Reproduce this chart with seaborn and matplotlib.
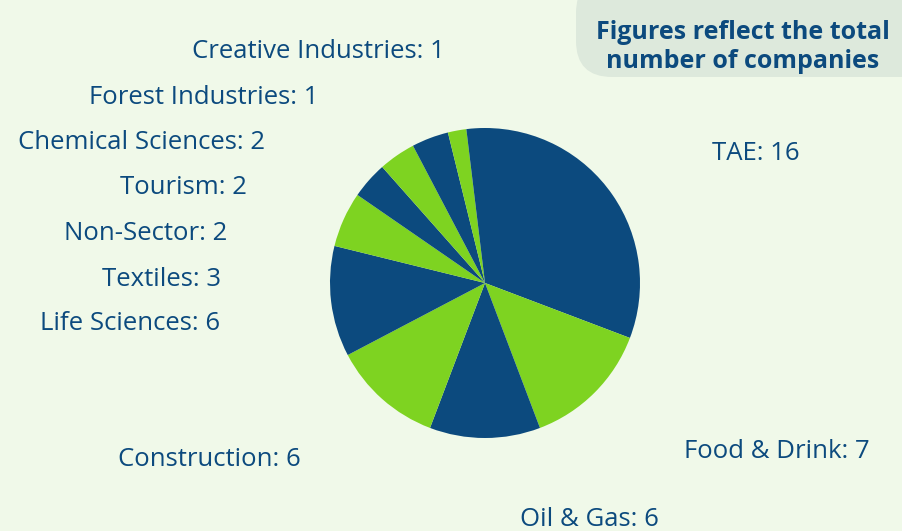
import matplotlib
matplotlib.use("Agg")
import matplotlib.pyplot as plt
import seaborn as sns
from matplotlib.patches import FancyBboxPatch

sectors = ["TAE", "Food & Drink", "Oil & Gas", "Construction", "Life Sciences",
           "Textiles", "Non-Sector", "Tourism", "Chemical Sciences",
           "Forest Industries", "Creative Industries"]
companies = [16, 7, 6, 6, 6, 3, 2, 2, 2, 1, 1]

# label centres in pixels (x, y from top)
label_pos = [(756, 153), (777, 452), (589, 520), (209, 460), (130, 324),
             (162, 279), (146, 233), (183, 188), (142, 143),
             (204, 98), (318, 52)]

dark = "#0c4a7e"
green = "#7ed321"
bg = "#f0f9e9"

sns.set_theme(style="white")
plt.rcParams["font.family"] = ["Open Sans", "DejaVu Sans"]

W, H = 903, 531
fig = plt.figure(figsize=(W / 100, H / 100), dpi=100)
fig.patch.set_facecolor(bg)

# pie axes: centre (485, 283), radius 155 px
cx, cy, r = 485, 283, 155
ax = fig.add_axes([(cx - r) / W, (H - cy - r) / H, 2 * r / W, 2 * r / H])
ax.set_facecolor(bg)
colors = [dark if i % 2 == 0 else green for i in range(len(companies))]
ax.pie(companies, colors=colors, startangle=90, counterclock=False,
       wedgeprops=dict(linewidth=0))
ax.set_xlim(-1, 1)
ax.set_ylim(-1, 1)
ax.set_aspect("equal")
ax.axis("off")

for name, val, (x, y) in zip(sectors, companies, label_pos):
    fig.text(x / W, 1 - y / H, f"{name}: {val}", ha="center", va="center",
             fontsize=18.5, color=dark)

# note box in top right
box = FancyBboxPatch((576 / W, (H - 77) / H), 360 / W, 100 / H,
                     boxstyle="round,pad=0,rounding_size=0.04",
                     transform=fig.transFigure, facecolor="#dde9dc",
                     edgecolor="none", mutation_aspect=W / H)
fig.patches.append(box)
fig.text(743 / W, 1 - 47 / H, "Figures reflect the total\nnumber of companies",
         ha="center", va="center", fontsize=18, fontweight="bold",
         color=dark, linespacing=1.2)

fig.savefig("out.png", dpi=100, facecolor=bg)
